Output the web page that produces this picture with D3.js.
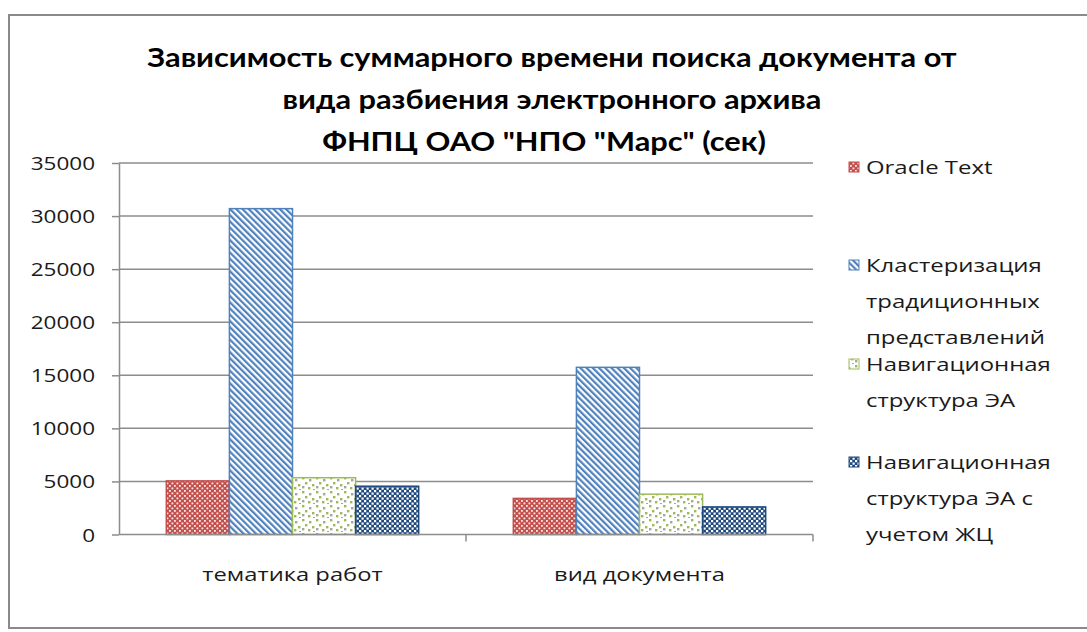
<!DOCTYPE html>
<html>
<head>
<meta charset="utf-8">
<script src="https://cdn.jsdelivr.net/npm/d3@7"></script>
<style>
  body { margin: 0; background: #fff; }
  svg { display: block; }
</style>
</head>
<body>
<div id="chart"></div>
<script>
var categories = ['тематика работ', 'вид документа']
var seriesNames = ['Oracle Text', 'Кластеризация традиционных представлений', 'Навигационная структура ЭА', 'Навигационная структура ЭА с учетом ЖЦ']
var oracleText = [5050, 3400]
var clustering = [30700, 15750]
var navStructure = [5350, 3800]
var navStructureLC = [4550, 2600]
var yTicks = [0, 5000, 10000, 15000, 20000, 25000, 30000, 35000]
var titleLines = ['Зависимость суммарного времени поиска документа от', 'вида разбиения электронного архива', 'ФНПЦ ОАО "НПО "Марс" (сек)']
var legendLines = [['Oracle Text'], ['Кластеризация', 'традиционных', 'представлений'], ['Навигационная', 'структура ЭА'], ['Навигационная', 'структура ЭА с', 'учетом ЖЦ']]

function createChart() {
	let width = 1087
	let height = 632
	let plot = { left: 119, right: 813, top: 163, bottom: 534.5 }
	let stretch = 1.25

	const svg = d3.select('#chart').append('svg')
		.attr('width', width)
		.attr('height', height)

	// patterns, one per series
	const defs = svg.append('defs')

	let pOracle = defs.append('pattern').attr('id', 'p0')
		.attr('patternUnits', 'userSpaceOnUse').attr('width', 5).attr('height', 5)
	pOracle.append('rect').attr('width', 5).attr('height', 5).attr('fill', '#c4504d')
	pOracle.append('rect').attr('x', 0).attr('y', 0).attr('width', 1.8).attr('height', 1.8).attr('fill', '#fbe9e9')
	pOracle.append('rect').attr('x', 2.5).attr('y', 2.5).attr('width', 1.8).attr('height', 1.8).attr('fill', '#fbe9e9')

	let pClust = defs.append('pattern').attr('id', 'p1')
		.attr('patternUnits', 'userSpaceOnUse').attr('width', 4.4).attr('height', 10)
		.attr('patternTransform', 'rotate(-45)')
	pClust.append('rect').attr('width', 4.4).attr('height', 10).attr('fill', '#fff')
	pClust.append('rect').attr('width', 2.2).attr('height', 10).attr('fill', '#4f81bd')

	let pNav = defs.append('pattern').attr('id', 'p2')
		.attr('patternUnits', 'userSpaceOnUse').attr('width', 14).attr('height', 14)
	pNav.append('rect').attr('width', 14).attr('height', 14).attr('fill', '#fff')
	let dots = [[1, 1, '#9bbb59'], [8, 3, '#a5a5a5'], [4, 6, '#9bbb59'], [11, 8, '#9bbb59'], [1, 10, '#a5a5a5'], [7, 11, '#9bbb59'], [12, 13, '#a5a5a5']]
	dots.forEach(d => {
		pNav.append('rect').attr('x', d[0]).attr('y', d[1]).attr('width', 2.4).attr('height', 2.4).attr('fill', d[2])
	})

	let pNavLC = defs.append('pattern').attr('id', 'p3')
		.attr('patternUnits', 'userSpaceOnUse').attr('width', 5).attr('height', 5)
	pNavLC.append('rect').attr('width', 5).attr('height', 5).attr('fill', '#1f497d')
	pNavLC.append('rect').attr('x', 0).attr('y', 0).attr('width', 2.2).attr('height', 2.2).attr('fill', '#fff')
	pNavLC.append('rect').attr('x', 2.5).attr('y', 2.5).attr('width', 2.2).attr('height', 2.2).attr('fill', '#fff')

	var strokes = ['#c0504d', '#4f81bd', '#9bbb59', '#1f497d']
	var color = d3.scaleOrdinal().domain(seriesNames).range(strokes)
	var fillOf = d3.scaleOrdinal().domain(seriesNames).range(['url(#p0)', 'url(#p1)', 'url(#p2)', 'url(#p3)'])

	// chart frame
	svg.append('rect')
		.attr('x', 9).attr('y', 15)
		.attr('width', width).attr('height', 613)
		.attr('fill', '#fff')
		.attr('stroke', '#8a8a8a')
		.attr('stroke-width', 2)

	// helper: text squeezed wider, like the picture
	function place(sel, x, y, k) {
		return sel.attr('transform', 'translate(' + x + ',' + y + ') scale(' + (k || stretch) + ',1)')
	}

	// title
	titleLines.forEach((t, i) => {
		place(svg.append('text'), i == 2 ? 544 : 552, 67 + i * 42, 1.14)
			.attr('text-anchor', 'middle')
			.style('font-family', 'Lato')
			.style('font-weight', 700)
			.style('font-size', '27px')
			.attr('fill', '#000')
			.text(t)
	})

	var y = d3.scaleLinear().domain([0, 35000]).range([plot.bottom, plot.top])
	var x0 = d3.scaleBand().domain(categories).range([plot.left, plot.right]).paddingInner(0).paddingOuter(0)
	var x1 = d3.scaleBand().domain(seriesNames).range([0, x0.bandwidth()]).paddingInner(0).paddingOuter(0.75)

	// gridlines
	svg.append('g').selectAll('line')
		.data(yTicks.filter(d => d > 0))
		.enter()
		.append('line')
		.attr('x1', plot.left).attr('x2', plot.right)
		.attr('y1', d => y(d)).attr('y2', d => y(d))
		.attr('stroke', '#8c8c8c')
		.attr('stroke-width', 1.5)

	// y axis
	let yAxis = svg.append('g')
		.attr('transform', 'translate(' + plot.left + ',0)')
		.call(d3.axisLeft(y).tickValues(yTicks).tickSize(7).tickSizeOuter(0).tickFormat(d3.format('d')))
	yAxis.select('.domain').attr('stroke', '#8c8c8c').attr('stroke-width', 1.5)
	yAxis.selectAll('.tick line').attr('stroke', '#8c8c8c').attr('stroke-width', 1.5)
	yAxis.selectAll('.tick text').remove()
	yAxis.selectAll('.tick').each(function(d) {
		place(d3.select(this).append('text'), -24, 6.5)
			.attr('text-anchor', 'end')
			.style('font-family', 'Open Sans')
			.style('font-size', '18px')
			.attr('fill', '#1a1a1a')
			.text(d)
	})

	// bars
	var rows = categories.map((c, i) => ({
		category: c,
		values: [oracleText[i], clustering[i], navStructure[i], navStructureLC[i]]
	}))

	let groups = svg.append('g').selectAll('g')
		.data(rows)
		.enter()
		.append('g')
		.attr('transform', d => 'translate(' + x0(d.category) + ',0)')

	groups.selectAll('rect')
		.data(d => d.values.map((v, j) => ({ name: seriesNames[j], value: v })))
		.enter()
		.append('rect')
		.attr('x', d => x1(d.name))
		.attr('y', d => y(d.value))
		.attr('width', x1.bandwidth())
		.attr('height', d => y(0) - y(d.value))
		.attr('fill', d => fillOf(d.name))
		.attr('stroke', d => color(d.name))
		.attr('stroke-width', 1.5)

	// x axis, ticks between categories
	let xAxis = svg.append('g')
		.attr('transform', 'translate(0,' + plot.bottom + ')')
	xAxis.append('line')
		.attr('x1', plot.left).attr('x2', plot.right)
		.attr('stroke', '#8c8c8c').attr('stroke-width', 1.5)
	xAxis.selectAll('line.tick')
		.data(categories)
		.enter()
		.append('line')
		.attr('class', 'tick')
		.attr('x1', d => x0(d) + x0.bandwidth()).attr('x2', d => x0(d) + x0.bandwidth())
		.attr('y1', 0).attr('y2', 7)
		.attr('stroke', '#8c8c8c').attr('stroke-width', 1.5)
	xAxis.selectAll('text')
		.data(categories)
		.enter()
		.append('text')
		.each(function(d) {
			place(d3.select(this), x0(d) + x0.bandwidth() / 2, 46)
		})
		.attr('text-anchor', 'middle')
		.style('font-family', 'Open Sans')
		.style('font-size', '19px')
		.attr('fill', '#1a1a1a')
		.text(d => d)

	// legend
	let legendTop = [167, 265, 364, 462]
	let lineGap = 36
	var legend = svg.append('g').attr('class', 'legend')

	legend.selectAll('rect')
		.data(seriesNames)
		.enter()
		.append('rect')
		.attr('x', 849)
		.attr('y', (d, i) => legendTop[i] - 5)
		.attr('width', 10)
		.attr('height', 10)
		.attr('fill', d => fillOf(d))
		.attr('stroke', d => color(d))
		.attr('stroke-width', 1)

	seriesNames.forEach((s, i) => {
		legendLines[i].forEach((line, j) => {
			place(legend.append('text'), 866, legendTop[i] + j * lineGap + 6.5, 1.33)
				.style('font-family', 'Open Sans')
				.style('font-size', '18px')
				.attr('fill', '#1a1a1a')
				.text(line)
		})
	})
}

createChart()
</script>
</body>
</html>
